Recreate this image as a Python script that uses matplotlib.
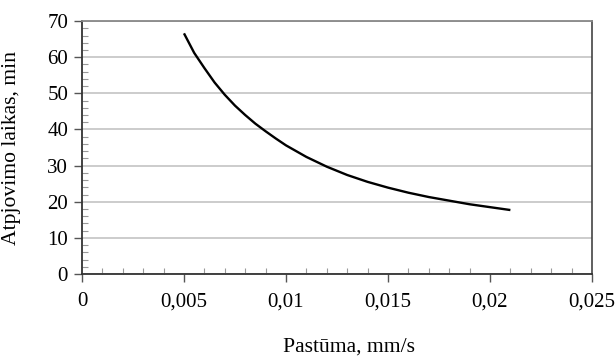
import matplotlib
matplotlib.use("Agg")
import matplotlib.pyplot as plt
from matplotlib.ticker import MultipleLocator
import numpy as np

# feed rate (mm/s) vs cutting time (min)
pastuma = [0.005, 0.0055, 0.006, 0.0065, 0.007, 0.0075, 0.008, 0.0085, 0.009, 0.0095,
           0.010, 0.011, 0.012, 0.013, 0.014, 0.015, 0.016, 0.017, 0.018, 0.019, 0.020, 0.021]
laikas = [66.6, 61.2, 57.0, 53.0, 49.6, 46.6, 44.0, 41.6, 39.5, 37.5,
          35.6, 32.4, 29.7, 27.4, 25.5, 23.9, 22.5, 21.3, 20.3, 19.3, 18.5, 17.7]
x_ticks = [0, 0.005, 0.01, 0.015, 0.02, 0.025]
x_labels = ['0', '0,005', '0,01', '0,015', '0,02', '0,025']
y_ticks = [0, 10, 20, 30, 40, 50, 60, 70]

plt.rcParams['font.family'] = ['Liberation Serif', 'DejaVu Serif']
plt.rcParams['font.size'] = 15

fig = plt.figure(figsize=(6.15, 3.57), dpi=100)
ax = fig.add_axes([0.1333, 0.2325, 0.8293, 0.7085])

ax.plot(pastuma, laikas, color='black', linewidth=1.7, solid_capstyle='butt', zorder=3)

ax.set_xlim(0, 0.025)
ax.set_ylim(0, 70)
ax.set_xticks(x_ticks)
ax.set_xticklabels(x_labels)
ax.set_yticks(y_ticks)
ax.xaxis.set_minor_locator(MultipleLocator(0.001))
ax.yaxis.set_minor_locator(MultipleLocator(2))

ax.grid(axis='y', which='major', color='#c8c8c8', linewidth=1.3)
ax.set_axisbelow(True)

ax.tick_params(axis='both', which='major', direction='out', length=6, width=1.0,
               color='#555555', pad=4)
ax.tick_params(axis='x', which='major', pad=7)
ax.tick_params(axis='both', which='minor', direction='in', length=4, width=0.8,
               color='#999999')

for side in ['left', 'bottom']:
    ax.spines[side].set_color('#333333')
    ax.spines[side].set_linewidth(1.3)
ax.spines['right'].set_color('#444444')
ax.spines['right'].set_linewidth(1.2)
ax.spines['top'].set_color('#888888')
ax.spines['top'].set_linewidth(1.3)

ax.set_xlabel('Pastūma, mm/s', fontsize=15.6)
ax.set_ylabel('Atpjovimo laikas, min', fontsize=15.6)
ax.xaxis.set_label_coords(0.5227, -0.25)
ax.yaxis.set_label_coords(-0.12, 0.5)

fig.savefig('out.png', dpi=100)
